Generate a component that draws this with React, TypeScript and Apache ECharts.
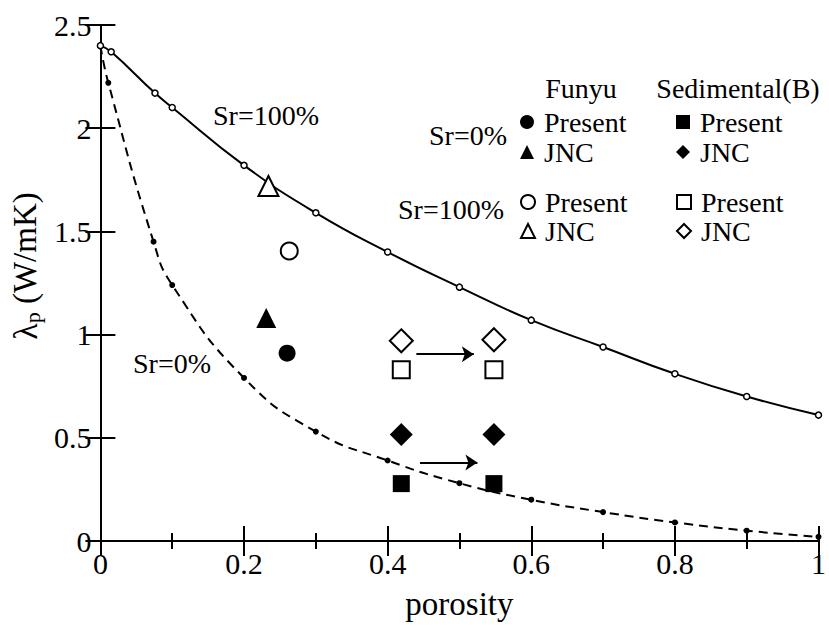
import React, { useEffect, useRef } from "react";
import * as echarts from "echarts";

// ---- data ----
const porositySr100 = [0, 0.015, 0.076, 0.1, 0.2, 0.3, 0.4, 0.5, 0.6, 0.7, 0.8, 0.9, 1.0];
const lambdaSr100 = [2.4, 2.37, 2.17, 2.1, 1.82, 1.59, 1.4, 1.23, 1.07, 0.94, 0.81, 0.7, 0.61];
const porositySr0 = [0, 0.011, 0.074, 0.1, 0.2, 0.3, 0.4, 0.5, 0.6, 0.7, 0.8, 0.9, 1.0];
const lambdaSr0 = [2.4, 2.22, 1.45, 1.24, 0.79, 0.53, 0.39, 0.28, 0.2, 0.14, 0.09, 0.05, 0.02];

const funyuSr0Present = [[0.26, 0.91]];
const funyuSr0JNC = [[0.231, 1.08]];
const funyuSr100Present = [[0.263, 1.405]];
const funyuSr100JNC = [[0.234, 1.72]];
const sedSr0Present = [[0.419, 0.278], [0.548, 0.278]];
const sedSr0JNC = [[0.419, 0.516], [0.548, 0.516]];
const sedSr100Present = [[0.419, 0.83], [0.548, 0.83]];
const sedSr100JNC = [[0.419, 0.97], [0.548, 0.975]];

const shiftArrows = [
  [[0.44, 0.905], [0.52, 0.905]],
  [[0.445, 0.38], [0.525, 0.38]],
];

const xMin = 0, xMax = 1, xInterval = 0.2;
const yMin = 0, yMax = 2.5, yInterval = 0.5;

const columnHeaders = ["Funyu", "Sedimental(B)"];
const rowHeaders = ["Sr=0%", "Sr=100%"];
const curveLabels = ["Sr=100%", "Sr=0%"];

const FONT = "'Liberation Serif', 'Times New Roman', Times, 'DejaVu Serif', serif";
const BLACK = "#000";

function zip(xs: number[], ys: number[]) {
  return xs.map((x, i) => [x, ys[i]]);
}

export default function App() {
  const ref = useRef<HTMLDivElement>(null);
  useEffect(() => {
    if (!ref.current) return;
    const chart = echarts.init(ref.current, undefined, { renderer: "svg" });

    const filled = { color: BLACK, opacity: 1 };
    const open = { color: "#fff", borderColor: BLACK, borderWidth: 2, opacity: 1 };

    const scatter = (name: string, data: number[][], symbol: string, size: number, style: any) => ({
      name,
      type: "scatter",
      data,
      symbol,
      symbolSize: size,
      itemStyle: style,
      z: 5,
    });

    const legendCommon = {
      orient: "vertical",
      itemWidth: 14,
      itemHeight: 14,
      selectedMode: false,
      padding: 0,
      textStyle: {
        fontFamily: FONT,
        fontSize: 28,
        color: BLACK,
        padding: [0, 0, 0, 5],
      },
      formatter: (n: string) => (n.endsWith("Present") ? "Present" : "JNC"),
    };

    const axisLine = { show: true, lineStyle: { color: BLACK, width: 2 } };
    const txt = (text: string, x: number, y: number, align: string) => ({
      type: "text",
      x,
      y,
      style: { text, fontFamily: FONT, fontSize: 28, fill: BLACK, align, verticalAlign: "middle" },
    });

    chart.setOption({
      animation: false,
      backgroundColor: "#fff",
      textStyle: { fontFamily: FONT },
      grid: { left: 100, top: 25, right: 2, bottom: 87, containLabel: false },
      xAxis: [
        {
          type: "value",
          min: xMin,
          max: xMax,
          interval: xInterval,
          position: "bottom",
          axisLine,
          axisTick: { inside: true, length: 15, lineStyle: { color: BLACK, width: 2 } },
          minorTick: { show: true, splitNumber: 2, length: 8, lineStyle: { color: BLACK, width: 2 } },
          splitLine: { show: false },
          axisLabel: { fontFamily: FONT, fontSize: 30, color: BLACK, margin: 7 },
          name: "porosity",
          nameLocation: "middle",
          nameGap: 46,
          nameTextStyle: { fontFamily: FONT, fontSize: 33, color: BLACK },
        },
        {
          type: "value",
          min: xMin,
          max: xMax,
          interval: xInterval,
          position: "top",
          axisLine,
          axisTick: { inside: true, length: 15, lineStyle: { color: BLACK, width: 2 } },
          minorTick: { show: true, splitNumber: 2, length: 8, lineStyle: { color: BLACK, width: 2 } },
          splitLine: { show: false },
          axisLabel: { show: false },
        },
      ],
      yAxis: [
        {
          type: "value",
          min: yMin,
          max: yMax,
          interval: yInterval,
          position: "left",
          axisLine,
          axisTick: { inside: true, length: 15, lineStyle: { color: BLACK, width: 2 } },
          splitLine: { show: false },
          axisLabel: { fontFamily: FONT, fontSize: 30, color: BLACK, margin: 9 },
          name: "{a|λ}{b|p} (W/mK)",
          nameLocation: "middle",
          nameGap: 50,
          nameRotate: 90,
          nameTextStyle: {
            fontFamily: FONT,
            fontSize: 33,
            color: BLACK,
            padding: [0, 0, 0, 34],
            rich: {
              a: { fontFamily: FONT, fontSize: 34, color: BLACK, lineHeight: 36 },
              b: { fontFamily: FONT, fontSize: 22, color: BLACK, verticalAlign: "bottom", lineHeight: 22, padding: [12, 0, 0, 0] },
            },
          },
        },
        {
          type: "value",
          min: yMin,
          max: yMax,
          interval: yInterval,
          position: "right",
          axisLine,
          axisTick: { inside: true, length: 15, lineStyle: { color: BLACK, width: 2 } },
          splitLine: { show: false },
          axisLabel: { show: false },
        },
      ],
      legend: [
        { ...legendCommon, left: 520, top: 108, itemGap: 2, data: ["Funyu Sr=0% Present", "Funyu Sr=0% JNC"] },
        { ...legendCommon, left: 520, top: 188, itemGap: 1, data: ["Funyu Sr=100% Present", "Funyu Sr=100% JNC"] },
        { ...legendCommon, left: 676, top: 108, itemGap: 2, data: ["Sed Sr=0% Present", "Sed Sr=0% JNC"] },
        { ...legendCommon, left: 676, top: 188, itemGap: 1, data: ["Sed Sr=100% Present", "Sed Sr=100% JNC"] },
      ],
      graphic: [
        txt(columnHeaders[0], 581, 88, "center"),
        txt(columnHeaders[1], 738, 88, "center"),
        txt(rowHeaders[0], 507, 135, "right"),
        txt(rowHeaders[1], 504, 209, "right"),
        txt(curveLabels[0], 213, 115, "left"),
        txt(curveLabels[1], 133, 363, "left"),
      ],
      series: [
        {
          name: "Sr=0% curve",
          type: "line",
          data: zip(porositySr0, lambdaSr0),
          smooth: 0.5,
          symbol: "circle",
          symbolSize: 6,
          itemStyle: { color: BLACK },
          lineStyle: { color: BLACK, width: 2, type: [9, 6] },
          z: 2,
        },
        {
          name: "Sr=100% curve",
          type: "line",
          data: zip(porositySr100, lambdaSr100),
          smooth: 0.5,
          symbol: "circle",
          symbolSize: 6,
          itemStyle: { color: "#fff", borderColor: BLACK, borderWidth: 1.5 },
          lineStyle: { color: BLACK, width: 2 },
          z: 3,
        },
        scatter("Funyu Sr=0% Present", funyuSr0Present, "circle", 17, filled),
        scatter("Funyu Sr=0% JNC", funyuSr0JNC, "triangle", 20, filled),
        scatter("Funyu Sr=100% Present", funyuSr100Present, "circle", 17, open),
        scatter("Funyu Sr=100% JNC", funyuSr100JNC, "triangle", 20, open),
        scatter("Sed Sr=0% Present", sedSr0Present, "rect", 17, filled),
        scatter("Sed Sr=0% JNC", sedSr0JNC, "diamond", 23, filled),
        scatter("Sed Sr=100% Present", sedSr100Present, "rect", 17, open),
        scatter("Sed Sr=100% JNC", sedSr100JNC, "diamond", 23, open),
        {
          name: "shift",
          type: "lines",
          coordinateSystem: "cartesian2d",
          data: shiftArrows.map((c) => ({ coords: c })),
          symbol: ["none", "arrow"],
          symbolSize: 12,
          lineStyle: { color: BLACK, width: 2, opacity: 1 },
          itemStyle: { color: BLACK },
          z: 4,
        },
      ],
    });
    return () => chart.dispose();
  }, []);
  return <div ref={ref} style={{ position: "absolute", left: 0, top: 0, width: 829, height: 628, background: "#fff" }} />;
}
